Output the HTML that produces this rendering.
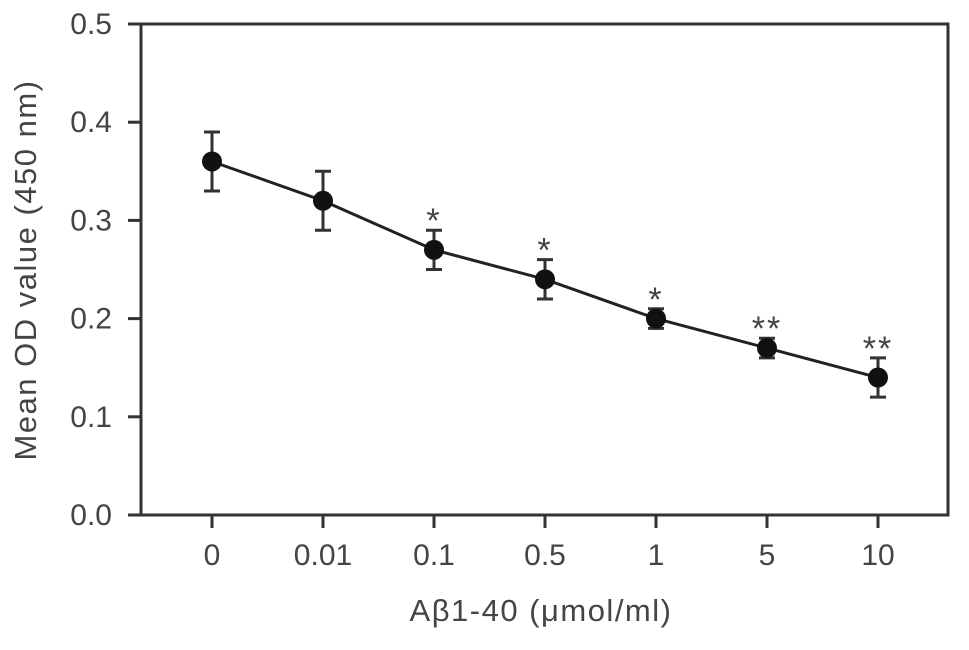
<!DOCTYPE html>
<html><head><meta charset="utf-8"><style>
body{margin:0;background:#fff}
svg text{font-family:"Liberation Sans",sans-serif;fill:#444}
</style></head><body>
<svg width="969" height="645" viewBox="0 0 969 645">
<g id="g"></g>
</svg>
<script>
const categories=["0","0.01","0.1","0.5","1","5","10"];
const values=[0.36,0.32,0.27,0.24,0.20,0.17,0.14];
const errors=[0.03,0.03,0.02,0.02,0.01,0.01,0.02];
const marks=["","","*","*","*","**","**"];
const yTicks=[0,0.1,0.2,0.3,0.4,0.5];
const yTickLabels=["0.0","0.1","0.2","0.3","0.4","0.5"];
const L=141,R=948,T=24,B=515,x0=212,dx=111;
const y=v=>B-(v/0.5)*(B-T);
const x=i=>x0+i*dx;
const g=document.getElementById('g');
const NS='http://www.w3.org/2000/svg';
function el(tag,attrs,txt){const e=document.createElementNS(NS,tag);for(const k in attrs)e.setAttribute(k,attrs[k]);if(txt!=null)e.textContent=txt;g.appendChild(e);return e;}
let e=el('rect',{x:L,y:T,width:R-L,height:B-T,fill:'none',stroke:'#333','stroke-width':3});


yTicks.forEach((v,i)=>{
 let t=el('line',{x1:128,x2:L,y1:y(v),y2:y(v),stroke:'#333','stroke-width':3});
 
 
 let l=el('text',{x:112,y:y(v)+10,'font-size':30,'text-anchor':'end'},yTickLabels[i]);
 
 
});
categories.forEach((c,i)=>{
 let t=el('line',{x1:x(i),x2:x(i),y1:B,y2:528,stroke:'#333','stroke-width':3});
 
 
 let l=el('text',{x:x(i),y:565,'font-size':30,'text-anchor':'middle'},c);
 
 
});
let pts=values.map((v,i)=>x(i)+','+y(v)).join(' ');
e=el('polyline',{points:pts,fill:'none',stroke:'#222','stroke-width':3});


values.forEach((v,i)=>{
 const xi=x(i),hi=y(v+errors[i]),lo=y(v-errors[i]);
 let eb=el('path',{d:`M${xi},${hi}V${lo}M${xi-8},${hi}H${xi+8}M${xi-8},${lo}H${xi+8}`,stroke:'#333','stroke-width':3,fill:'none'});
 
 
 let p=el('circle',{cx:xi,cy:y(v),r:10,fill:'#111'});
 
 
 if(marks[i]){
  let s=el('text',{x:xi,y:hi+2,'font-size':34,'text-anchor':'middle','letter-spacing':2},marks[i]);
  
  
 }
});
e=el('text',{x:541,y:621,'font-size':31,'text-anchor':'middle','letter-spacing':1.5},'Aβ1-40 (μmol/ml)');


e=el('text',{x:0,y:0,'font-size':31,'text-anchor':'middle','letter-spacing':1.5,transform:'translate(36,270) rotate(-90)'},'Mean OD value (450 nm)');


</script>
</body></html>
